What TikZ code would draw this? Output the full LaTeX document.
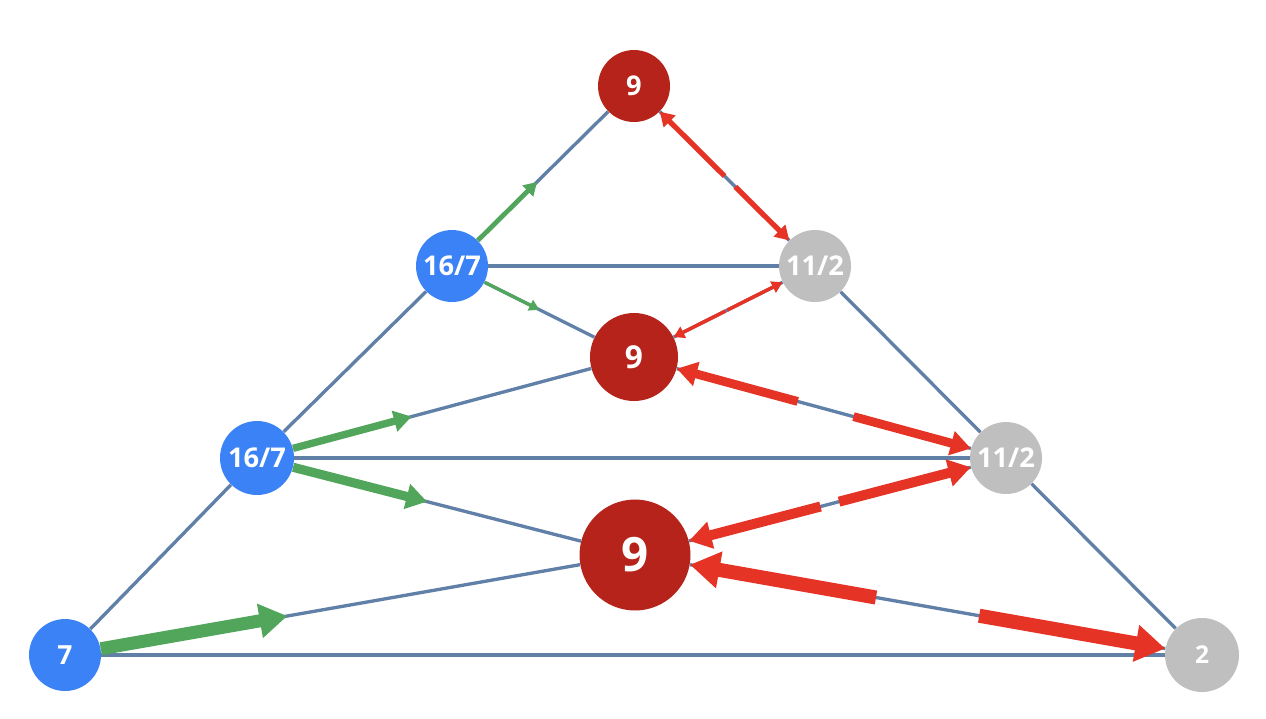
\documentclass[tikz,border=0pt]{standalone}
\usepackage{fontspec}
\setmainfont{Open Sans}
\usetikzlibrary{arrows.meta,calc}

\definecolor{nodered}{RGB}{181,35,26}
\definecolor{nodeblue}{RGB}{59,130,246}
\definecolor{nodegray}{RGB}{191,191,191}
\definecolor{edgeblue}{RGB}{96,128,168}
\definecolor{flowgreen}{RGB}{82,166,92}
\definecolor{flowred}{RGB}{229,51,37}

\begin{document}
\begin{tikzpicture}[x=0.02cm, y=-0.02cm,
    vertex/.style={circle, inner sep=0pt, text=white, font=\bfseries},
    rednode/.style={vertex, fill=nodered},
    bluenode/.style={vertex, fill=nodeblue},
    graynode/.style={vertex, fill=nodegray},
    edge/.style={edgeblue, line width=1.9pt},
    gflow/.style={flowgreen, line width=#1, -{Triangle[length=2.5pt 1.8, width=2.5pt 2.2]}},
    rflow/.style={flowred, line width=#1, -{Triangle[length=2.5pt 1.8, width=2.5pt 2.2]}}]
    \useasboundingbox (0,0) rectangle (1266,718);

    % Red nodes in the middle column
    \node[rednode, minimum size=1.44cm, font=\bfseries\fontsize{15.5pt}{15.5pt}\selectfont] (top) at (634,86) {9};
    \node[rednode, minimum size=1.76cm, font=\bfseries\fontsize{18pt}{18pt}\selectfont] (mid) at (634,357) {9};
    \node[rednode, minimum size=2.22cm, font=\bfseries\fontsize{27pt}{27pt}\selectfont] (big) at (635,555) {9};

    % Blue nodes on the left side
    \node[bluenode, minimum size=1.44cm, font=\bfseries\fontsize{15.5pt}{15.5pt}\selectfont] (ul) at (452,266) {16/7};
    \node[bluenode, minimum size=1.48cm, font=\bfseries\fontsize{15.5pt}{15.5pt}\selectfont] (ml) at (257,458) {16/7};
    \node[bluenode, minimum size=1.44cm, font=\bfseries\fontsize{15pt}{15pt}\selectfont] (bl) at (65,655) {7};

    % Gray nodes on the right side
    \node[graynode, minimum size=1.44cm, font=\bfseries\fontsize{15.5pt}{15.5pt}\selectfont] (ur) at (815,266) {11/2};
    \node[graynode, minimum size=1.44cm, font=\bfseries\fontsize{15.5pt}{15.5pt}\selectfont] (mr) at (1006,458) {11/2};
    \node[graynode, minimum size=1.48cm, font=\bfseries\fontsize{14pt}{14pt}\selectfont] (br) at (1202,655) {2};

    % Edges of the triangle
    \draw[edge] (top) -- (ul);
    \draw[edge] (top) -- (ur);
    \draw[edge] (ul) -- (ur);
    \draw[edge] (ul) -- (mid);
    \draw[edge] (ur) -- (mid);
    \draw[edge] (ul) -- (ml);
    \draw[edge] (ur) -- (mr);
    \draw[edge] (ml) -- (mid);
    \draw[edge] (mr) -- (mid);
    \draw[edge] (ml) -- (mr);
    \draw[edge] (ml) -- (big);
    \draw[edge] (mr) -- (big);
    \draw[edge] (ml) -- (bl);
    \draw[edge] (mr) -- (br);
    \draw[edge] (bl) -- (big);
    \draw[edge] (br) -- (big);
    \draw[edge] (bl) -- (br);

    % Green flows out of the blue nodes
    \coordinate (g1) at ($(ul)!0.467!(top)$);
    \coordinate (g2) at ($(ul)!0.48!(mid)$);
    \coordinate (g3) at ($(ml)!0.41!(mid)$);
    \coordinate (g4) at ($(ml)!0.45!(big)$);
    \coordinate (g5) at ($(bl)!0.39!(big)$);
    \draw[gflow=2.7pt] (ul) -- (g1);
    \draw[gflow=1.8pt] (ul) -- (g2);
    \draw[gflow=4.2pt] (ml) -- (g3);
    \draw[gflow=5.2pt] (ml) -- (g4);
    \draw[gflow=7.4pt] (bl) -- (g5);

    % Red flows between the gray and the red nodes
    \coordinate (r1a) at ($(top)!0.50!(ur)$);
    \coordinate (r1b) at ($(top)!0.56!(ur)$);
    \draw[rflow=3pt] (r1a) -- (top);
    \draw[rflow=3pt] (r1b) -- (ur);

    \coordinate (r2a) at ($(mid)!0.505!(ur)$);
    \coordinate (r2b) at ($(mid)!0.515!(ur)$);
    \draw[rflow=2pt] (r2a) -- (mid);
    \draw[rflow=2pt] (r2b) -- (ur);

    \coordinate (r3a) at ($(mid)!0.44!(mr)$);
    \coordinate (r3b) at ($(mid)!0.59!(mr)$);
    \draw[rflow=5pt] (r3a) -- (mid);
    \draw[rflow=5pt] (r3b) -- (mr);

    \coordinate (r4a) at ($(big)!0.50!(mr)$);
    \coordinate (r4b) at ($(big)!0.55!(mr)$);
    \draw[rflow=5.7pt] (r4a) -- (big);
    \draw[rflow=5.7pt] (r4b) -- (mr);

    \coordinate (r5a) at ($(big)!0.425!(br)$);
    \coordinate (r5b) at ($(big)!0.607!(br)$);
    \draw[rflow=8pt] (r5a) -- (big);
    \draw[rflow=8pt] (r5b) -- (br);
\end{tikzpicture}
\end{document}
